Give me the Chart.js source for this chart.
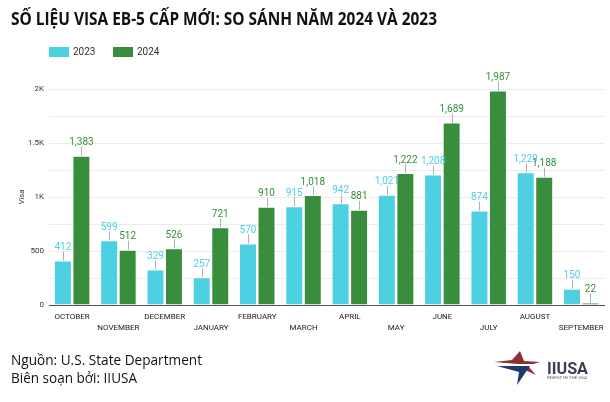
<!DOCTYPE html>
<html>
<head>
<meta charset="utf-8">
<script src="https://cdn.jsdelivr.net/npm/chart.js@4.4.1/dist/chart.umd.min.js"></script>
<style>
  html,body{margin:0;padding:0;background:#fff;}
  body{width:610px;height:402px;position:relative;overflow:hidden;font-family:Roboto,"Noto Sans",sans-serif;}
  #wrap{position:absolute;left:0;top:0;width:610px;height:402px;}
  .txt{position:absolute;white-space:nowrap;transform-origin:0 0;}
  #title{left:11px;top:7px;font-family:"Open Sans","Noto Sans",sans-serif;font-weight:700;font-size:17px;color:#111;}
  .lg{position:absolute;top:47px;width:20px;height:10px;}
  .lgt{position:absolute;top:46px;font-size:10px;color:#333;}
  .foot{font-family:"Open Sans","Noto Sans",sans-serif;font-size:14px;color:#111;left:11px;}
  #logo{position:absolute;left:490px;top:346px;}
</style>
</head>
<body>
<div id="wrap"><canvas id="c" width="610" height="402"></canvas></div>
<div id="title" class="txt">SỐ LIỆU VISA EB-5 CẤP MỚI: SO SÁNH NĂM 2024 VÀ 2023</div>
<div id="legend"></div>
<div id="f1" class="txt foot" style="top:350px">Nguồn: U.S. State Department</div>
<div id="f2" class="txt foot" style="top:368px">Biên soạn bởi: IIUSA</div>
<svg id="logo" width="115" height="44" viewBox="0 0 115 44">
  <polygon points="4,16 22,14 30,5 34,15 50,16 40,19" fill="#8e2f36"/>
  <polygon points="38,20 46,29 33,23" fill="#8e2f36"/>
  <polygon points="8,18 44,18 43,20 9,20" fill="#ffffff"/>
  <polygon points="7,20 40,20 27,39 29,26" fill="#1f3a6b"/>
  <text x="57" y="28" font-family="Roboto, sans-serif" font-weight="700" font-size="17" fill="#3a3d4d" textLength="41" lengthAdjust="spacingAndGlyphs">IIUSA</text>
  <text x="57" y="33" font-family="Roboto, sans-serif" font-size="3.6" fill="#555" textLength="40" lengthAdjust="spacingAndGlyphs">INVEST IN THE USA</text>
</svg>
<script>
// ---- data ----
const months = ["OCTOBER","NOVEMBER","DECEMBER","JANUARY","FEBRUARY","MARCH","APRIL","MAY","JUNE","JULY","AUGUST","SEPTEMBER"];
const values2023 = [412, 599, 329, 257, 570, 915, 942, 1021, 1208, 874, 1229, 150];
const values2024 = [1383, 512, 526, 721, 910, 1018, 881, 1222, 1689, 1987, 1188, 22];
const seriesNames = ["2023", "2024"];
const seriesColors = ["#4dd0e1", "#388e3c"];
const yTickLabels = {0:"0", 500:"500", 1000:"1K", 1500:"1.5K", 2000:"2K"};

// staggered category labels (every other one on a second row)
const xLabels = months.map((m, i) => i % 2 === 0 ? [m] : ["", m]);

// HTML legend built from the series arrays
const legend = document.getElementById('legend');
const lgPos = [[49, 73], [113, 137]];
seriesNames.forEach((n, i) => {
  const b = document.createElement('div'); b.className = 'lg';
  b.style.left = lgPos[i][0] + 'px'; b.style.background = seriesColors[i];
  const t = document.createElement('div'); t.className = 'lgt';
  t.style.left = lgPos[i][1] + 'px'; t.textContent = n;
  legend.appendChild(b); legend.appendChild(t);
});

function fitWidth(id, w) {
  const el = document.getElementById(id);
  const cw = el.getBoundingClientRect().width;
  el.style.transform = 'scaleX(' + (w / cw) + ')';
}

const valueLabels = {
  id: 'valueLabels',
  afterDatasetsDraw(chart) {
    const ctx = chart.ctx;
    chart.data.datasets.forEach((ds, i) => {
      const meta = chart.getDatasetMeta(i);
      meta.data.forEach((bar, j) => {
        const v = ds.data[j];
        const x = Math.round(bar.x) + 0.5;
        ctx.save();
        ctx.strokeStyle = '#b0b0b0';
        ctx.lineWidth = 1;
        ctx.beginPath();
        ctx.moveTo(x, bar.y);
        ctx.lineTo(x, bar.y - 9);
        ctx.stroke();
        ctx.fillStyle = seriesColors[i];
        ctx.font = '10px Roboto';
        ctx.textAlign = 'center';
        ctx.textBaseline = 'alphabetic';
        ctx.fillText(v.toLocaleString('en-US'), bar.x, bar.y - 10.5);
        ctx.restore();
      });
    });
  }
};

Chart.defaults.font.family = 'Roboto';
Chart.defaults.color = '#333';

new Chart(document.getElementById('c'), {
  type: 'bar',
  data: {
    labels: xLabels,
    datasets: [
      { label: seriesNames[0], data: values2023, backgroundColor: seriesColors[0], borderColor: 'rgba(255,255,255,0.35)', borderWidth: 1, categoryPercentage: 0.8, barPercentage: 0.97 },
      { label: seriesNames[1], data: values2024, backgroundColor: seriesColors[1], borderColor: 'rgba(255,255,255,0.35)', borderWidth: 1, categoryPercentage: 0.8, barPercentage: 0.97 }
    ]
  },
  options: {
    responsive: false,
    animation: false,
    events: [],
    layout: { padding: { left: 17, right: 5, top: 89, bottom: 67 } },
    plugins: { legend: { display: false }, tooltip: { enabled: false } },
    scales: {
      x: {
        grid: { display: false, drawTicks: false },
        border: { display: true, color: '#555', width: 1 },
        ticks: { autoSkip: false, maxRotation: 0, minRotation: 0, padding: 6, color: '#222', font: { size: 8, lineHeight: 1.4 } },
        afterFit(s) { s.height = 30; }
      },
      y: {
        min: 0, max: 2000,
        grid: { color: '#ececec', drawTicks: false },
        border: { display: false },
        ticks: { stepSize: 250, padding: 5, color: '#333', font: { size: 8 },
          callback: (v) => (yTickLabels[v] !== undefined ? yTickLabels[v] : '') },
        title: { display: true, text: 'Visa', color: '#333', font: { size: 8, style: 'italic' }, padding: { top: 0, bottom: 4 } },
        afterFit(s) { s.width = 32; }
      }
    }
  },
  plugins: [valueLabels]
});

fitWidth('title', 426);
fitWidth('f1', 191);
fitWidth('f2', 126);
</script>
</body>
</html>
